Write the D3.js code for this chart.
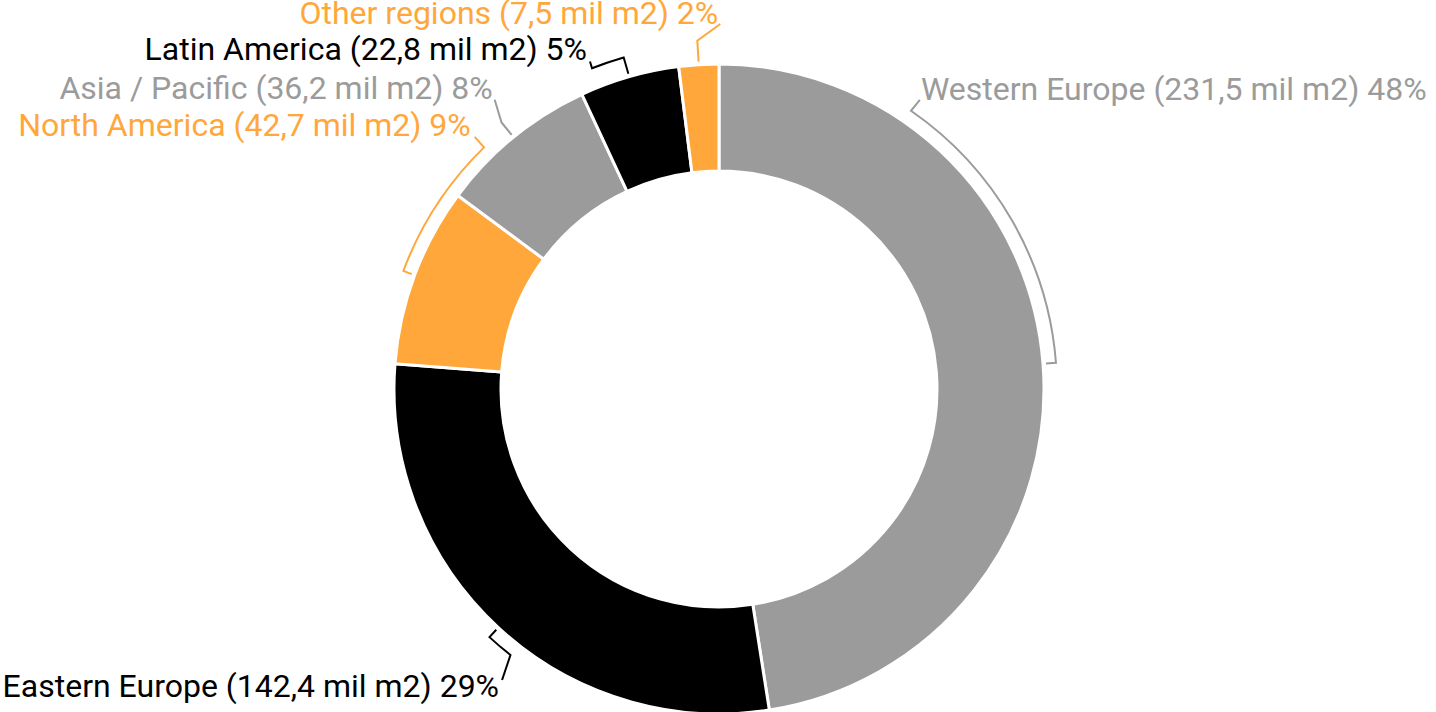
<!DOCTYPE html>
<html>
<head>
<meta charset="utf-8">
<script src="https://cdn.jsdelivr.net/npm/d3@7"></script>
<style>
  html, body { margin: 0; padding: 0; background: #fff; }
  #chart svg { display: block; }
</style>
</head>
<body>
<div id="chart"></div>
<script>
// Floor space by region - donut chart

const regions = ["Western Europe", "Eastern Europe", "North America", "Asia / Pacific", "Latin America", "Other regions"];
const areas = [231.5, 142.4, 42.7, 36.2, 22.8, 7.5];   // mil m2
const shares = [48, 29, 9, 8, 5, 2];                   // %, slices are drawn from these
const colors = ["#9b9b9b", "#000000", "#ffa73b", "#9b9b9b", "#000000", "#ffa73b"];

// leader / label layout per slice (angles in degrees, clockwise from 12 o'clock)
const layout = [
  { r2: 338, arcEnd: 34.6,  lAng: 34.8,  lR: 352, anchor: "start", dx: 1,  dy: 0 },
  { r2: 338, arcEnd: 218.1, lAng: 216.7, lR: 363, anchor: "end",   dx: -3, dy: 17 },
  { r2: 337, arcEnd: 315.8, lAng: 315.9, lR: 351, anchor: "end",   dx: -4, dy: -1 },
  { r2: 344, arcEnd: null,  lAng: 322.2, lR: 366, anchor: "end",   dx: -2, dy: -1 },
  { r2: 345, arcEnd: 338.4, lAng: 338.5, lR: 352, anchor: "end",   dx: -3, dy: -1 },
  { r2: 349, arcEnd: null,  lAng: 0.2,   lR: 365, anchor: "end",   dx: -2, dy: 0 }
];

const width = 1436, height = 712;
const cx = 719, cy = 389;
const outerR = 325, innerR = 218;

const locale = d3.formatLocale({ decimal: ",", thousands: ".", grouping: [3], currency: ["", ""] });
const fmt = locale.format(".1f");

const data = regions.map((r, i) => ({ region: r, area: areas[i], share: shares[i], color: colors[i], lay: layout[i] }));

const pie = d3.pie().sort(null).value(d => d.share);
const arc = d3.arc().innerRadius(innerR).outerRadius(outerR);
const rad = deg => deg * Math.PI / 180;
const polar = (a, r) => [r * Math.sin(a), -r * Math.cos(a)];

const svg = d3.select("#chart")
  .append("svg")
  .attr("width", width)
  .attr("height", height)
  .attr("viewBox", `0 0 ${width} ${height}`);

const g = svg.append("g").attr("transform", `translate(${cx},${cy})`);

const arcs = pie(data);

// slices
g.append("g")
  .selectAll("path")
  .data(arcs)
  .join("path")
    .attr("d", arc)
    .attr("fill", d => d.data.color)
    .attr("stroke", "#fff")
    .attr("stroke-width", 3)
    .attr("stroke-linejoin", "round");

// leader lines: radial tick, arc along the ring, then line to the label
g.append("g")
  .selectAll("path")
  .data(arcs)
  .join("path")
    .attr("fill", "none")
    .attr("stroke", d => d.data.color)
    .attr("stroke-width", 2)
    .attr("stroke-linejoin", "miter")
    .attr("d", d => {
      const L = d.data.lay;
      const mid = (d.startAngle + d.endAngle) / 2;
      const p0 = polar(mid, outerR + 3);
      const p1 = polar(mid, L.r2);
      let s = `M${p0}L${p1}`;
      if (L.arcEnd !== null) {
        const e = rad(L.arcEnd);
        const p2 = polar(e, L.r2);
        const sweep = e > mid ? 1 : 0;
        s += `A${L.r2},${L.r2} 0 0 ${sweep} ${p2}`;
      }
      const p3 = polar(rad(L.lAng), L.lR);
      s += `L${p3}`;
      return s;
    });

// labels
g.append("g")
  .selectAll("text")
  .data(arcs)
  .join("text")
    .attr("transform", d => {
      const L = d.data.lay;
      const p = polar(rad(L.lAng), L.lR);
      return `translate(${p[0] + L.dx},${p[1] + L.dy})`;
    })
    .attr("text-anchor", d => d.data.lay.anchor)
    .attr("fill", d => d.data.color)
    .style("font-family", "Roboto, 'Noto Sans', sans-serif")
    .style("font-size", "32px")
    .text(d => `${d.data.region} (${fmt(d.data.area)} mil m2) ${d.data.share}%`);
</script>
</body>
</html>
